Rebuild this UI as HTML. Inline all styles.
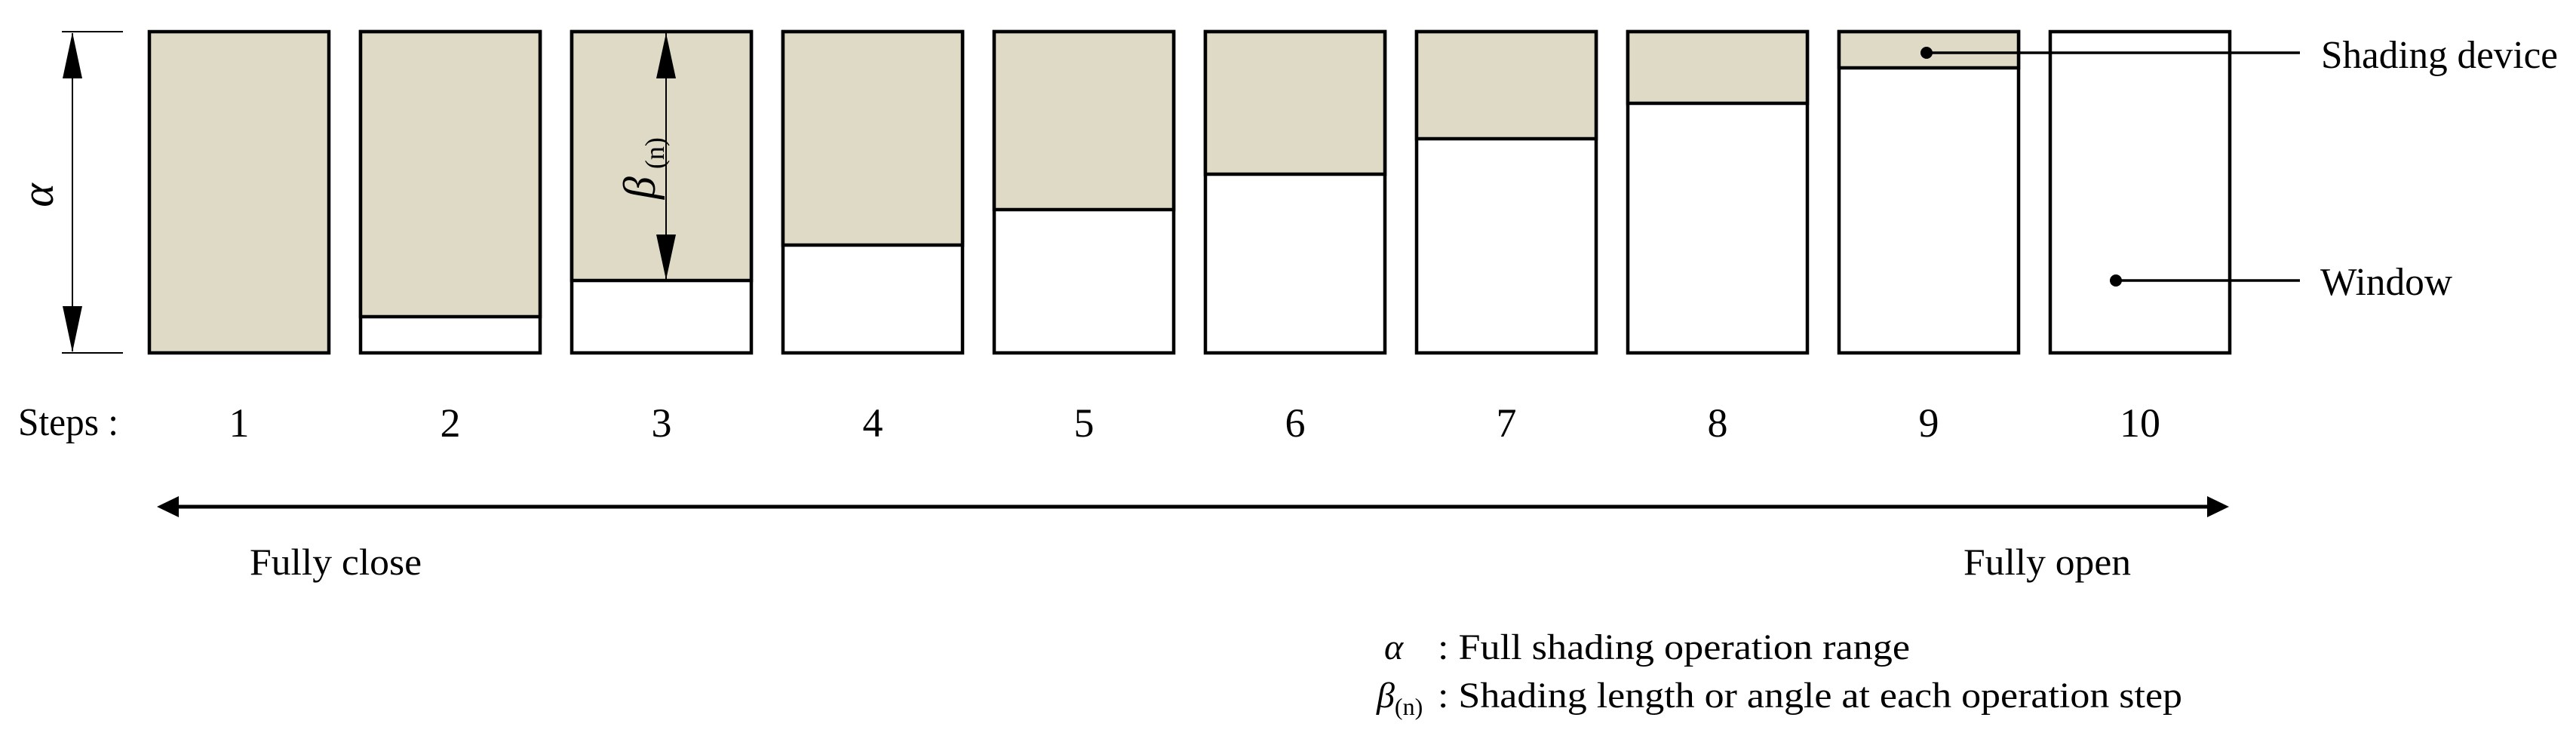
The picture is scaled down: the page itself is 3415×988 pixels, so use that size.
<!DOCTYPE html>
<html><head><meta charset="utf-8"><style>
html,body{margin:0;padding:0;background:#fff;}
svg{display:block;}
text{font-family:"Liberation Serif",serif;fill:#000;}
</style></head><body>
<svg width="3415" height="988" viewBox="0 0 3415 988" xmlns="http://www.w3.org/2000/svg">
<g stroke="#000" stroke-width="4.5">
<rect x="198" y="42" width="238" height="426" fill="#dfdac6"/>
<rect x="478" y="42" width="238" height="426" fill="#fff"/><rect x="478" y="42" width="238" height="378" fill="#dfdac6"/>
<rect x="758" y="42" width="238" height="426" fill="#fff"/><rect x="758" y="42" width="238" height="330" fill="#dfdac6"/>
<rect x="1038" y="42" width="238" height="426" fill="#fff"/><rect x="1038" y="42" width="238" height="283" fill="#dfdac6"/>
<rect x="1318" y="42" width="238" height="426" fill="#fff"/><rect x="1318" y="42" width="238" height="236" fill="#dfdac6"/>
<rect x="1598" y="42" width="238" height="426" fill="#fff"/><rect x="1598" y="42" width="238" height="189" fill="#dfdac6"/>
<rect x="1878" y="42" width="238" height="426" fill="#fff"/><rect x="1878" y="42" width="238" height="142" fill="#dfdac6"/>
<rect x="2158" y="42" width="238" height="426" fill="#fff"/><rect x="2158" y="42" width="238" height="95" fill="#dfdac6"/>
<rect x="2438" y="42" width="238" height="426" fill="#fff"/><rect x="2438" y="42" width="238" height="48" fill="#dfdac6"/>
<rect x="2718" y="42" width="238" height="426" fill="#fff"/>
</g>
<g stroke="#000" stroke-width="2">
<line x1="82" y1="42" x2="163" y2="42"/><line x1="82" y1="468" x2="163" y2="468"/>
<line x1="96" y1="44" x2="96" y2="466"/>
<line x1="883" y1="44" x2="883" y2="372"/>
</g>
<polygon points="96,43 83,104 109,104" fill="#000"/>
<polygon points="96,467 83,406 109,406" fill="#000"/>
<polygon points="883,44 870,104 896,104" fill="#000"/>
<polygon points="883,371 870,311 896,311" fill="#000"/>
<text font-size="60" font-style="italic" transform="translate(70,259) rotate(-90)" text-anchor="middle">α</text>
<text transform="translate(868,264) rotate(-90)" font-size="60"><tspan font-style="italic">β</tspan><tspan font-size="36" dx="10" dy="12">(n)</tspan></text>
<g stroke="#000" stroke-width="3.5">
<line x1="2553" y1="70" x2="3049" y2="70"/>
<line x1="2805" y1="372" x2="3049" y2="372"/>
</g>
<ellipse cx="2554" cy="70" rx="8" ry="8" fill="#000"/>
<ellipse cx="2805" cy="372" rx="8" ry="8" fill="#000"/>
<text x="3077" y="90" font-size="52" textLength="314" lengthAdjust="spacingAndGlyphs">Shading device</text>
<text x="3076" y="391" font-size="52" textLength="175" lengthAdjust="spacingAndGlyphs">Window</text>
<text x="24" y="577" font-size="52" textLength="133" lengthAdjust="spacingAndGlyphs">Steps :</text>
<g font-size="54" text-anchor="middle">
<text x="317" y="579">1</text><text x="597" y="579">2</text><text x="877" y="579">3</text><text x="1157" y="579">4</text><text x="1437" y="579">5</text>
<text x="1717" y="579">6</text><text x="1997" y="579">7</text><text x="2277" y="579">8</text><text x="2557" y="579">9</text><text x="2837" y="579">10</text>
</g>
<line x1="230" y1="672" x2="2930" y2="672" stroke="#000" stroke-width="5"/>
<polygon points="208,672 237,658 237,686" fill="#000"/>
<polygon points="2955,672 2926,658 2926,686" fill="#000"/>
<text x="331" y="762" font-size="50" textLength="228" lengthAdjust="spacingAndGlyphs">Fully close</text>
<text x="2603" y="762" font-size="50" textLength="222" lengthAdjust="spacingAndGlyphs">Fully open</text>
<text x="1835" y="874" font-size="48" font-style="italic">α</text>
<text x="1906" y="874" font-size="48" textLength="626" lengthAdjust="spacingAndGlyphs">: Full shading operation range</text>
<text x="1825" y="938" font-size="48"><tspan font-style="italic">β</tspan><tspan font-size="32" dy="10">(n)</tspan></text>
<text x="1906" y="938" font-size="48" textLength="987" lengthAdjust="spacingAndGlyphs">: Shading length or angle at each operation step</text>
</svg>
</body></html>
